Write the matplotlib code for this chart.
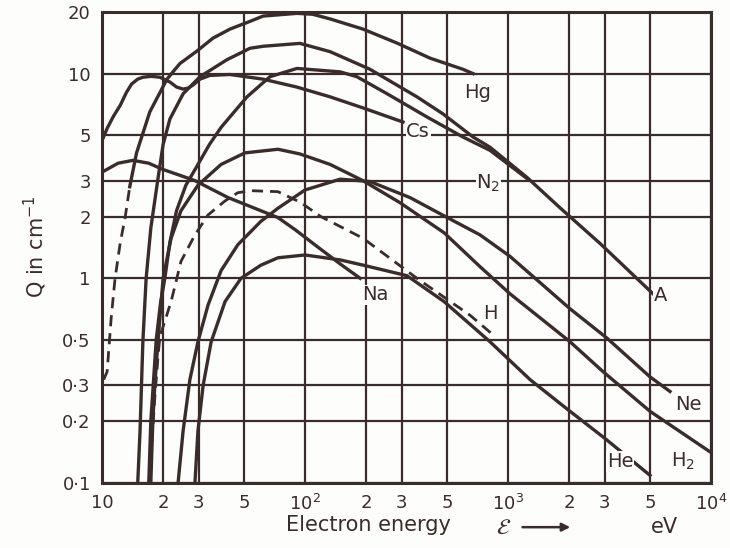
import matplotlib
matplotlib.use("Agg")
import matplotlib.pyplot as plt

# ionisation coefficient Q (cm^-1) vs electron energy (eV)
hg_dash_e = [10.2, 10.6, 11.1, 11.6, 12.3, 13.0, 13.7]
hg_dash_q = [0.32, 0.35, 0.64, 1.0, 1.49, 1.98, 2.8]
hg_e = [13.7, 14.8, 17.2, 20.9, 24.2, 29.4, 35.2, 42.7, 53.6, 62.1, 91.3, 109, 133, 193, 284, 413, 600, 673]
hg_q = [2.8, 4.1, 6.5, 9.4, 11.2, 12.9, 14.9, 16.5, 18.0, 19.1, 19.7, 19.5, 18.5, 16.5, 14.1, 11.9, 10.5, 10.0]

cs_e = [10, 10.6, 11.4, 12.3, 13.2, 14.0, 15.0, 15.9, 17.5, 19.3, 21.6, 23.3, 25.1, 26.6, 28.1, 30.4, 34.0,
        42.7, 62, 91, 133, 193, 304]
cs_q = [4.7, 5.4, 6.2, 7.0, 8.1, 8.9, 9.4, 9.6, 9.7, 9.6, 9.1, 8.6, 8.4, 8.5, 8.8, 9.4, 9.8,
        9.9, 9.4, 8.6, 7.7, 6.8, 5.8]

na_e = [10, 12, 14.2, 17, 20, 25, 28.7, 41.8, 73.6, 90, 118, 150, 187]
na_q = [3.3, 3.65, 3.77, 3.65, 3.4, 3.15, 3.0, 2.48, 1.98, 1.72, 1.4, 1.17, 1.0]

a_e = [15.0, 15.4, 15.9, 16.5, 17.4, 18.9, 20.0, 21.6, 25.1, 30.4, 41.3, 53.6, 62.1, 94.5, 133, 209, 356, 479,
       673, 815, 1241, 1804, 2840, 5180]
a_q = [0.1, 0.18, 0.49, 1.0, 1.76, 3.1, 4.5, 6.0, 7.97, 9.66, 11.7, 13.3, 13.6, 14.05, 12.8, 10.5, 7.7, 6.35,
       4.9, 4.37, 3.11, 2.21, 1.48, 0.84]

n2_e = [17.0, 17.4, 18.5, 19.4, 20.4, 21.6, 23.3, 25.9, 29.7, 33.8, 38.6, 44.2, 51.8, 67.2, 91.3, 149, 180,
        254, 399, 600, 815, 1241]
n2_q = [0.1, 0.2, 0.5, 0.75, 1.0, 1.5, 2.14, 2.85, 3.6, 4.5, 5.46, 6.4, 7.7, 9.66, 10.6, 10.2, 9.66,
        7.97, 6.14, 4.9, 4.22, 3.07]

h2_e = [17.4, 17.8, 18.2, 18.9, 20.0, 21.9, 24.5, 29.7, 38.6, 50.6, 73.6, 94.5, 133, 193, 294, 484, 728,
        1023, 2020, 2938, 5006, 9886]
h2_q = [0.1, 0.2, 0.3, 0.5, 1.0, 1.57, 2.14, 2.85, 3.6, 4.1, 4.27, 4.05, 3.6, 3.0, 2.34, 1.67, 1.14,
        0.84, 0.49, 0.35, 0.224, 0.142]

ne_e = [23.7, 25.1, 27.1, 29.7, 33.3, 38.6, 46.7, 60.7, 73.6, 100, 149, 209, 329, 484, 728, 1023, 2020,
        3074, 5006, 6281]
ne_q = [0.1, 0.18, 0.32, 0.49, 0.74, 1.09, 1.46, 1.9, 2.2, 2.7, 3.05, 2.97, 2.48, 2.02, 1.63, 1.28, 0.71,
        0.51, 0.33, 0.28]

he_e = [28.7, 29.7, 31.5, 34.5, 40.4, 48.4, 60.7, 73.6, 100, 149, 193, 318, 484, 815, 1284, 1953, 3005, 5006]
he_q = [0.1, 0.18, 0.3, 0.49, 0.77, 1.0, 1.16, 1.26, 1.3, 1.23, 1.16, 1.03, 0.77, 0.49, 0.32, 0.23, 0.165,
        0.109]

h_e = [17.4, 18.2, 18.9, 19.3, 21.9, 24.5, 28.7, 33.3, 40.4, 46.7, 54.2, 73.6, 95, 120, 193, 356, 650, 863]
h_q = [0.13, 0.26, 0.42, 0.52, 0.77, 1.21, 1.63, 2.04, 2.39, 2.62, 2.68, 2.65, 2.35, 2.0, 1.57, 1.0, 0.66,
       0.52]

x_ticks = [10, 20, 30, 50, 100, 200, 300, 500, 1000, 2000, 3000, 5000, 10000]
x_labels = ["10", "2", "3", "5", "10$^2$", "2", "3", "5", "10$^3$", "2", "3", "5", "10$^4$"]
y_ticks = [0.1, 0.2, 0.3, 0.5, 1, 2, 3, 5, 10, 20]
y_labels = ["0·1", "0·2", "0·3", "0·5", "1", "2", "3", "5", "10", "20"]

ink = "#3a2c2a"
plt.rcParams["font.family"] = ["DejaVu Sans"]

fig = plt.figure(figsize=(7.3, 5.48), dpi=100)
fig.patch.set_facecolor("#fdfdfb")
ax = fig.add_axes([0.1397, 0.1186, 0.8343, 0.8595])
ax.set_facecolor("#fdfdfb")
ax.set_xscale("log")
ax.set_yscale("log")
ax.set_xlim(10, 1e4)
ax.set_ylim(0.1, 20)

ax.set_xticks(x_ticks)
ax.set_xticklabels(x_labels)
ax.set_yticks(y_ticks)
ax.set_yticklabels(y_labels)
ax.minorticks_off()
ax.tick_params(length=0, labelsize=13, colors=ink, pad=8)
ax.grid(True, color=ink, lw=1.6)
for s in ax.spines.values():
    s.set_color(ink)
    s.set_linewidth(2.2)

lw = 2.4
ax.plot(hg_dash_e, hg_dash_q, color=ink, lw=2.0, ls=(0, (4, 2.5)))
ax.plot(hg_e, hg_q, color=ink, lw=lw)
ax.plot(cs_e, cs_q, color=ink, lw=lw)
ax.plot(na_e, na_q, color=ink, lw=lw)
ax.plot(a_e, a_q, color=ink, lw=lw)
ax.plot(n2_e, n2_q, color=ink, lw=lw)
ax.plot(h2_e, h2_q, color=ink, lw=lw)
ax.plot(ne_e, ne_q, color=ink, lw=lw)
ax.plot(he_e, he_q, color=ink, lw=lw)
ax.plot(h_e, h_q, color=ink, lw=2.0, ls=(0, (4, 2.5)))

lab = dict(color=ink, fontsize=14, ha="center", va="center",
           bbox=dict(facecolor="#fdfdfb", edgecolor="none", pad=0.5))
ax.text(711, 8.1, "Hg", **lab)
ax.text(361, 5.2, "Cs", **lab)
ax.text(800, 2.9, "N$_2$", **lab)
ax.text(5610, 0.82, "A", **lab)
ax.text(221, 0.83, "Na", **lab)
ax.text(815, 0.67, "H", **lab)
ax.text(7710, 0.242, "Ne", **lab)
ax.text(7280, 0.127, "H$_2$", **lab)
ax.text(3560, 0.127, "He", **lab)

fig.text(0.048, 0.55, "Q in cm$^{-1}$", rotation=90, fontsize=15, color=ink,
         ha="center", va="center")
fig.text(0.505, 0.042, "Electron energy", fontsize=15, color=ink, ha="center", va="center")
fig.text(0.69, 0.036, r"$\mathcal{E}$", fontsize=16, color=ink, ha="center", va="center")
ax.annotate("", xy=(0.785, 0.038), xytext=(0.712, 0.038), xycoords="figure fraction",
            arrowprops=dict(arrowstyle="-|>", color=ink, lw=1.8, mutation_scale=12),
            annotation_clip=False)
fig.text(0.91, 0.038, "eV", fontsize=15, color=ink, ha="center", va="center")

fig.savefig("out.png", dpi=100, facecolor=fig.get_facecolor())
